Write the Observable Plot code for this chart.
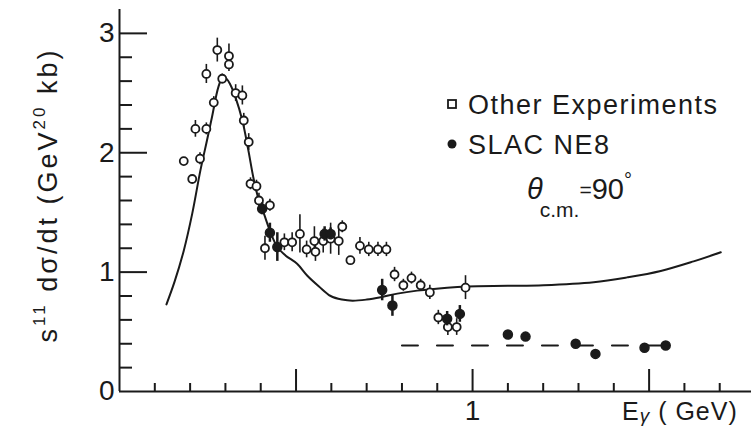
<!DOCTYPE html>
<html><head><meta charset="utf-8">
<script src="https://cdn.jsdelivr.net/npm/d3@7"></script>
<script src="https://cdn.jsdelivr.net/npm/@observablehq/plot@0.6"></script>
<style>
body{margin:0;background:#fff}
#chart svg{display:block}
</style>
</head><body><div id="chart"></div>
<script>
// Theory curve
const curveE = [0.133,0.156,0.182,0.206,0.229,0.246,0.262,0.280,0.292,0.303,0.314,0.329,0.348,0.365,0.380,0.395,0.409,0.428,0.447,0.470,0.503,0.532,0.565,0.598,0.630,0.660,0.700,0.740,0.787,0.843,0.928,0.985,1.100,1.201,1.343,1.438,1.533,1.626,1.703];
const curveV = [0.73,0.92,1.18,1.49,1.85,2.08,2.30,2.55,2.63,2.62,2.57,2.46,2.27,2.02,1.78,1.60,1.49,1.33,1.21,1.14,1.07,0.97,0.88,0.80,0.77,0.76,0.77,0.79,0.82,0.845,0.87,0.88,0.885,0.89,0.915,0.956,1.01,1.09,1.166];

// Other experiments (open symbols)
const otherE = [0.182,0.206,0.228,0.215,0.246,0.246,0.267,0.277,0.291,0.310,0.310,0.329,0.348,0.352,0.366,0.371,0.388,0.395,0.426,0.412,0.467,0.489,0.511,0.530,0.552,0.555,0.577,0.598,0.621,0.631,0.654,0.681,0.706,0.732,0.756,0.779,0.804,0.827,0.853,0.879,0.903,0.930,0.955,0.980];
const otherV = [1.93,1.78,1.95,2.20,2.20,2.66,2.42,2.86,2.62,2.81,2.74,2.50,2.48,2.27,2.09,1.74,1.72,1.60,1.56,1.20,1.25,1.25,1.32,1.19,1.26,1.17,1.26,1.28,1.26,1.38,1.10,1.22,1.19,1.19,1.19,0.98,0.89,0.95,0.89,0.83,0.62,0.54,0.54,0.87];
const otherErr = [0.03,0.03,0.05,0.07,0.05,0.08,0.05,0.10,0.04,0.10,0.06,0.07,0.08,0.06,0.07,0.05,0.05,0.06,0.05,0.10,0.07,0.08,0.16,0.07,0.12,0.08,0.10,0.13,0.12,0.05,0.03,0.07,0.06,0.06,0.06,0.06,0.05,0.05,0.05,0.06,0.06,0.07,0.07,0.10];

// SLAC NE8 (filled symbols)
const slacE = [0.404,0.426,0.447,0.581,0.598,0.744,0.773,0.928,0.964,1.100,1.150,1.292,1.348,1.487,1.547];
const slacV = [1.53,1.33,1.21,1.32,1.32,0.85,0.72,0.61,0.65,0.477,0.46,0.40,0.315,0.366,0.385];
const slacErr = [0.05,0.08,0.12,0.06,0.05,0.09,0.09,0.06,0.07,0.03,0.03,0.02,0.02,0.02,0.02];

// Dashed scaling line
const fitE = [0.80, 1.55];
const fitV = [0.385, 0.385];

// Axis ticks
const xMajor = [0.5, 1.0, 1.5];
const xMinor = [0.1,0.2,0.3,0.4,0.6,0.7,0.8,0.9,1.1,1.2,1.3,1.4,1.6,1.7];
const xLabels = [1];
const yMajor = [1, 2, 3];
const yMinor = [0.2,0.4,0.6,0.8,1.2,1.4,1.6,1.8,2.2,2.4,2.6,2.8];
const yLabels = [0, 1, 2, 3];

const curve = curveE.map((E,i)=>({E, v: curveV[i]}));
const other = otherE.map((E,i)=>({E, v: otherV[i], e: otherErr[i]}));
const slac = slacE.map((E,i)=>({E, v: slacV[i], e: slacErr[i]}));
const fit = fitE.map((E,i)=>({E, v: fitV[i]}));

const ink = "#1a1a1a";
const font = "'Liberation Sans', Arial, Helvetica, sans-serif";

const W = 752, H = 428, mL = 119, mR = 1, mT = 9, mB = 37;
const frameW = W - mL - mR, frameH = H - mT - mB;
// inward ticks: frame-spanning rules inset down to the tick length
const xTick = len => ({stroke: ink, strokeWidth: 2, insetTop: frameH - len});
const yTick = len => ({stroke: ink, strokeWidth: 2, insetRight: frameW - len});

const svgNode = Plot.plot({
  width: W, height: H,
  marginLeft: mL, marginRight: mR, marginTop: mT, marginBottom: mB,
  style: {fontFamily: font, color: ink, background: "#fff"},
  x: {domain: [0, 1.79], axis: null},
  y: {domain: [0, 3.2], axis: null},
  marks: [
    Plot.ruleY([0], {stroke: ink, strokeWidth: 2}),
    Plot.ruleX([0], {stroke: ink, strokeWidth: 2}),
    Plot.ruleX(xMinor, {x: d => d, ...xTick(8)}),
    Plot.ruleX(xMajor, {x: d => d, ...xTick(22)}),
    Plot.ruleY(yMinor, {y: d => d, ...yTick(13)}),
    Plot.ruleY(yMajor, {y: d => d, ...yTick(28)}),
    Plot.axisX({ticks: xLabels, tickSize: 0, tickPadding: 9, fontSize: 28, label: null, tickFormat: d => String(d), fill: ink}),
    Plot.axisY({ticks: yLabels, tickSize: 0, tickPadding: 5, fontSize: 28, label: null, tickFormat: d => String(d), fill: ink}),
    Plot.line(curve, {x: "E", y: "v", curve: "catmull-rom", stroke: ink, strokeWidth: 2}),
    Plot.line(fit, {x: "E", y: "v", stroke: ink, strokeWidth: 2, strokeDasharray: "16,19"}),
    Plot.ruleX(other, {x: "E", y1: d => d.v - d.e, y2: d => d.v + d.e, stroke: ink, strokeWidth: 1.6}),
    Plot.dot(other, {x: "E", y: "v", r: 4, fill: "white", stroke: ink, strokeWidth: 1.8}),
    Plot.ruleX(slac, {x: "E", y1: d => d.v - d.e, y2: d => d.v + d.e, stroke: ink, strokeWidth: 2.5}),
    Plot.dot(slac, {x: "E", y: "v", r: 4.5, fill: ink, stroke: ink})
  ]
});
document.getElementById("chart").appendChild(svgNode);
const svg = d3.select(svgNode);

// Y axis title
const yt = svg.append("text")
  .attr("transform", "translate(57,195) rotate(-90)")
  .attr("text-anchor", "middle")
  .attr("fill", ink)
  .style("font-family", font).style("font-size", "27px").style("letter-spacing", "3px");
yt.append("tspan").text("s");
yt.append("tspan").attr("dy", -12).style("font-size", "17px").text("11");
yt.append("tspan").attr("dy", 12).text(" dσ/dt (GeV");
yt.append("tspan").attr("dy", -12).style("font-size", "17px").text("20");
yt.append("tspan").attr("dy", 12).text(" kb)");

// X axis title
const xt = svg.append("text")
  .attr("x", 622).attr("y", 420)
  .attr("text-anchor", "start")
  .attr("fill", ink)
  .style("font-family", font).style("font-size", "25px").style("letter-spacing", "1px");
xt.append("tspan").text("E");
xt.append("tspan").attr("dy", 2).style("font-size", "19px").style("font-style", "italic").text("γ");
xt.append("tspan").attr("dy", -2).text(" ( GeV)");

// Legend
svg.append("rect").attr("x", 448).attr("y", 100).attr("width", 8).attr("height", 8)
  .attr("fill", "white").attr("stroke", ink).attr("stroke-width", 1.8);
svg.append("text").attr("x", 468).attr("y", 114).attr("text-anchor", "start").attr("fill", ink)
  .style("font-family", font).style("font-size", "27px").style("letter-spacing", "1.5px")
  .text("Other Experiments");
svg.append("circle").attr("cx", 452).attr("cy", 144).attr("r", 4.5).attr("fill", ink);
svg.append("text").attr("x", 468).attr("y", 154).attr("text-anchor", "start").attr("fill", ink)
  .style("font-family", font).style("font-size", "27px").style("letter-spacing", "1.5px")
  .text("SLAC NE8");

// theta annotation
const th = svg.append("text").attr("x", 527).attr("y", 199).attr("text-anchor", "start").attr("fill", ink)
  .style("font-family", font).style("font-size", "29px");
th.append("tspan").style("font-style", "italic").text("θ");
th.append("tspan").attr("dy", 18).attr("dx", -3).style("font-size", "21px").text("c.m.");
th.append("tspan").attr("dy", -20).style("font-size", "21px").text("=");
th.append("tspan").attr("dy", 2).text("90");
th.append("tspan").attr("dy", -12).style("font-size", "20px").text("°");
</script>
</body></html>
